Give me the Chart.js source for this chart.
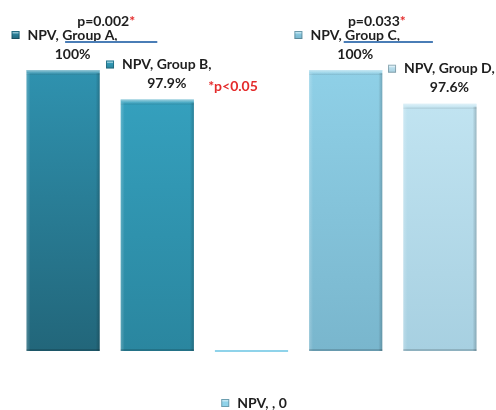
<!DOCTYPE html>
<html>
<head>
<meta charset="utf-8">
<script src="https://cdn.jsdelivr.net/npm/chart.js@4/dist/chart.umd.min.js"></script>
<style>
  html, body { margin: 0; padding: 0; background: #ffffff; }
  canvas { display: block; }
</style>
</head>
<body>
<canvas id="npvChart" width="496" height="410"></canvas>
<script>
// Series and categories
const seriesName = 'NPV';
const categories = ['Group A', 'Group B', '', 'Group C', 'Group D'];
const npvValues = [100, 97.9, 0, 100, 97.6];

// Pairwise comparisons (bar indices) and their p-values
const compareFrom = [0, 3];
const compareTo = [1, 4];
const pValueTexts = ['p=0.002', 'p=0.033'];
const significanceNote = '*p<0.05';

// Axis range
const axisMin = 80;
const axisMax = 100;

// Styling
const barTopColors = ['#2f92af', '#36a3c1', '#8fd3ea', '#8fd0e7', '#c4e6f3'];
const barBottomColors = ['#22667a', '#2a869f', '#8fd3ea', '#79b6cd', '#a7d0e1'];
const FONT = 'bold 14px Lato';
const TEXT_COLOR = '#1e1e1e';
const RED = '#e42b2b';
const LINK_COLOR = '#4a7db6';
const MARK = 8, GAP = 8, LINE_H = 19;

function fmtValue(v) { return v === 0 ? '0' : v + '%'; }

function barGradient(ctx) {
  const chart = ctx.chart;
  const area = chart.chartArea;
  const i = ctx.dataIndex;
  if (!area) return barTopColors[i];
  const g = chart.ctx.createLinearGradient(0, area.top, 0, area.bottom);
  g.addColorStop(0, barTopColors[i]);
  g.addColorStop(1, barBottomColors[i]);
  return g;
}

function drawMarker(ctx, x, y, i) {
  const g = ctx.createLinearGradient(0, y, 0, y + MARK);
  g.addColorStop(0, barTopColors[i]);
  g.addColorStop(1, barBottomColors[i]);
  ctx.fillStyle = g;
  ctx.fillRect(x, y, MARK, MARK);
  ctx.strokeStyle = 'rgba(0,0,0,0.25)';
  ctx.lineWidth = 1;
  ctx.strokeRect(x + 0.5, y + 0.5, MARK - 1, MARK - 1);
  ctx.fillStyle = 'rgba(255,255,255,0.45)';
  ctx.fillRect(x + 1, y + 1, MARK - 2, 1.5);
}

function drawLabel(ctx, cx, y1, lines, i) {
  ctx.font = FONT;
  const tw = Math.max(...lines.map(l => ctx.measureText(l).width));
  const x0 = cx - (MARK + GAP + tw) / 2;
  drawMarker(ctx, x0, y1 - MARK / 2, i);
  ctx.fillStyle = TEXT_COLOR;
  ctx.textAlign = 'center';
  ctx.textBaseline = 'middle';
  const tx = x0 + MARK + GAP + tw / 2;
  lines.forEach((l, k) => ctx.fillText(l, tx, y1 + k * LINE_H));
}

// Bevel edges, base stub for off-scale bars, data labels and p-value notes
const annotate = {
  id: 'annotate',
  afterDatasetsDraw(chart) {
    const ctx = chart.ctx;
    const area = chart.chartArea;
    const yScale = chart.scales.y;
    const bars = chart.getDatasetMeta(0).data;
    ctx.save();

    bars.forEach((bar, i) => {
      const v = npvValues[i];
      const l = bar.x - bar.width / 2;
      const w = bar.width;
      if (v < yScale.min) {
        ctx.strokeStyle = barTopColors[i];
        ctx.lineWidth = 2;
        ctx.beginPath();
        ctx.moveTo(l, area.bottom);
        ctx.lineTo(l + w, area.bottom);
        ctx.stroke();
        drawLabel(ctx, bar.x + 2.5, area.bottom + 52,
          [seriesName + ', ' + categories[i] + ', ' + fmtValue(v)], i);
        return;
      }
      const top = bar.y;
      const bottom = Math.min(bar.base, area.bottom);
      const h = bottom - top;
      // top bevel
      let g = ctx.createLinearGradient(0, top, 0, top + 5);
      g.addColorStop(0, 'rgba(255,255,255,0.5)');
      g.addColorStop(0.6, 'rgba(255,255,255,0.12)');
      g.addColorStop(1, 'rgba(0,0,0,0.1)');
      ctx.fillStyle = g;
      ctx.fillRect(l, top, w, 5);
      // side shading
      g = ctx.createLinearGradient(l, 0, l + 4, 0);
      g.addColorStop(0, 'rgba(255,255,255,0.22)');
      g.addColorStop(1, 'rgba(255,255,255,0)');
      ctx.fillStyle = g;
      ctx.fillRect(l, top + 3, 4, h - 3);
      g = ctx.createLinearGradient(l + w - 4, 0, l + w, 0);
      g.addColorStop(0, 'rgba(0,0,0,0)');
      g.addColorStop(1, 'rgba(0,0,0,0.2)');
      ctx.fillStyle = g;
      ctx.fillRect(l + w - 4, top + 3, 4, h - 3);
      // bottom edge
      ctx.fillStyle = 'rgba(0,0,0,0.15)';
      ctx.fillRect(l, bottom - 2, w, 2);

      drawLabel(ctx, bar.x + 1.5, top - 16 - LINE_H,
        [seriesName + ', ' + categories[i] + ',', fmtValue(v)], i);
    });

    // p-value brackets
    const textShift = [-4, -16];
    compareFrom.forEach((a, k) => {
      const b = compareTo[k];
      const x1 = bars[a].x + (k === 0 ? 2 : -2);
      const x2 = bars[b].x - (k === 0 ? 0 : 7);
      const ly = area.top - 28;
      ctx.strokeStyle = LINK_COLOR;
      ctx.lineWidth = 2;
      ctx.beginPath();
      ctx.moveTo(x1, ly);
      ctx.lineTo(x2, ly);
      ctx.stroke();

      ctx.font = FONT;
      ctx.textBaseline = 'middle';
      ctx.textAlign = 'left';
      const t = pValueTexts[k];
      const tw = ctx.measureText(t).width;
      const sw = ctx.measureText('*').width;
      const cx = (bars[a].x + bars[b].x) / 2 + textShift[k];
      const tx = cx - (tw + sw) / 2;
      const ty = area.top - 49;
      ctx.fillStyle = TEXT_COLOR;
      ctx.fillText(t, tx, ty);
      ctx.fillStyle = RED;
      ctx.fillText('*', tx + tw, ty);
    });

    // significance footnote
    ctx.font = FONT;
    ctx.textAlign = 'center';
    ctx.textBaseline = 'middle';
    ctx.fillStyle = RED;
    ctx.fillText(significanceNote, bars[2].x - 18.5, area.top + 16.5);

    ctx.restore();
  }
};

new Chart(document.getElementById('npvChart'), {
  type: 'bar',
  data: {
    labels: categories,
    datasets: [{
      label: seriesName,
      data: npvValues,
      backgroundColor: barGradient,
      borderWidth: 0,
      barPercentage: 0.777,
      categoryPercentage: 1.0
    }]
  },
  options: {
    responsive: false,
    animation: false,
    layout: { padding: { left: 16, right: 9, top: 70, bottom: 59 } },
    plugins: { legend: { display: false }, tooltip: { enabled: false } },
    scales: {
      x: { display: false },
      y: { display: false, min: axisMin, max: axisMax }
    }
  },
  plugins: [annotate]
});
</script>
</body>
</html>
